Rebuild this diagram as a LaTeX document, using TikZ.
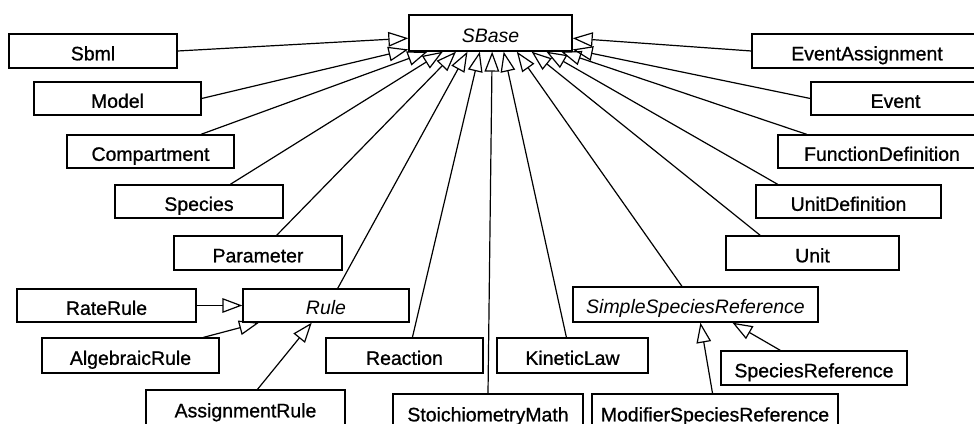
\documentclass[tikz,border=0pt]{standalone}
\usepackage{fontspec}
\setmainfont{Liberation Sans}
\newfontfamily\heavyfont{Liberation Sans}[FakeBold=0.9]
\usetikzlibrary{arrows.meta,calc}
\newcommand\umlbox[6]{\node[cls, minimum width={(#4-#2)*0.75pt}, minimum height={(#5-#3)*0.75pt}] (#1) at ({(#2+#4)/2},{(#3+#5)/2}) {#6};}
\newcommand\ont[3]{($(#1.north west)!#2!(#1.north east)$)}
\newcommand\onb[3]{($(#1.south west)!#2!(#1.south east)$)}
\begin{document}
\begin{tikzpicture}[x=0.75pt,y=-0.75pt,
  cls/.style={draw, line width=1pt, inner sep=0pt, fill=white,
    font=\heavyfont\fontsize{14.6}{17}\selectfont, text height=14pt, text depth=0pt},
  abstr/.style={font=\rmfamily\itshape\fontsize{14.6}{17}\selectfont},
  inh/.style={draw, line width=0.9pt, -{Triangle[open, length=15pt, width=11pt]}}]
\useasboundingbox (0,0) rectangle (974,424);
\clip (0,0) rectangle (974,424);
\fill[white] (0,0) rectangle (974,424);
\umlbox{SBase}{409}{15}{572}{51}{{\rmfamily\itshape SBase}}
\umlbox{Sbml}{9}{34}{177}{68}{Sbml}
\umlbox{Model}{34}{82}{201}{115}{Model}
\umlbox{Compartment}{67}{135}{234}{168}{Compartment}
\umlbox{Species}{115}{185}{283}{218}{Species}
\umlbox{Parameter}{174}{236}{342}{270}{Parameter}
\umlbox{Rule}{243}{289}{409}{322}{{\rmfamily\itshape Rule}}
\umlbox{RateRule}{17}{289}{196}{322}{RateRule}
\umlbox{AlgebraicRule}{42}{338}{219}{373}{AlgebraicRule}
\umlbox{AssignmentRule}{146}{390}{345}{426}{AssignmentRule}
\umlbox{Reaction}{326}{338}{483}{373}{Reaction}
\umlbox{Stoich}{393}{394}{583}{430}{StoichiometryMath}
\umlbox{KineticLaw}{497}{338}{648}{373}{KineticLaw}
\umlbox{Modifier}{592}{394}{838}{430}{ModifierSpeciesReference}
\umlbox{Simple}{573}{287}{818}{322}{{\rmfamily\itshape SimpleSpeciesReference}}
\umlbox{SpeciesRef}{721}{351}{907}{385}{SpeciesReference}
\umlbox{EventAssignment}{752}{34}{982}{68}{EventAssignment}
\umlbox{Event}{811}{82}{980}{115}{Event}
\umlbox{FunctionDefinition}{778}{135}{986}{168}{FunctionDefinition}
\umlbox{UnitDefinition}{756}{185}{941}{218}{UnitDefinition}
\umlbox{Unit}{726}{236}{899}{270}{Unit}
% generalisations to SBase
\draw[inh] (Sbml.east) -- ($(SBase.north west)!0.64!(SBase.south west)$);
\draw[inh] (Model.east) -- ($(SBase.north west)!0.94!(SBase.south west)$);
\draw[inh] \ont{Compartment}{0.80}{} -- \onb{SBase}{0.117}{};
\draw[inh] \ont{Species}{0.685}{} -- \onb{SBase}{0.21}{};
\draw[inh] \ont{Parameter}{0.61}{} -- \onb{SBase}{0.29}{};
\draw[inh] \ont{Rule}{0.57}{} -- \onb{SBase}{0.36}{};
\draw[inh] \ont{Reaction}{0.55}{} -- \onb{SBase}{0.435}{};
\draw[inh] \ont{Stoich}{0.50}{} -- \onb{SBase}{0.51}{};
\draw[inh] \ont{KineticLaw}{0.46}{} -- \onb{SBase}{0.58}{};
\draw[inh] \ont{Simple}{0.445}{} -- \onb{SBase}{0.66}{};
\draw[inh] \ont{Unit}{0.20}{} -- \onb{SBase}{0.75}{};
\draw[inh] \ont{UnitDefinition}{0.12}{} -- \onb{SBase}{0.84}{};
\draw[inh] \ont{FunctionDefinition}{0.14}{} -- \onb{SBase}{0.93}{};
\draw[inh] (Event.west) -- ($(SBase.north east)!0.94!(SBase.south east)$);
\draw[inh] (EventAssignment.west) -- ($(SBase.north east)!0.64!(SBase.south east)$);
% sub-hierarchies
\draw[inh] (RateRule.east) -- (Rule.west);
\draw[inh] \ont{AlgebraicRule}{0.91}{} -- \onb{Rule}{0.10}{};
\draw[inh] \ont{AssignmentRule}{0.56}{} -- \onb{Rule}{0.415}{};
\draw[inh] \ont{SpeciesRef}{0.32}{} -- \onb{Simple}{0.65}{};
\draw[inh] \ont{Modifier}{0.49}{} -- \onb{Simple}{0.52}{};
\end{tikzpicture}
\end{document}
